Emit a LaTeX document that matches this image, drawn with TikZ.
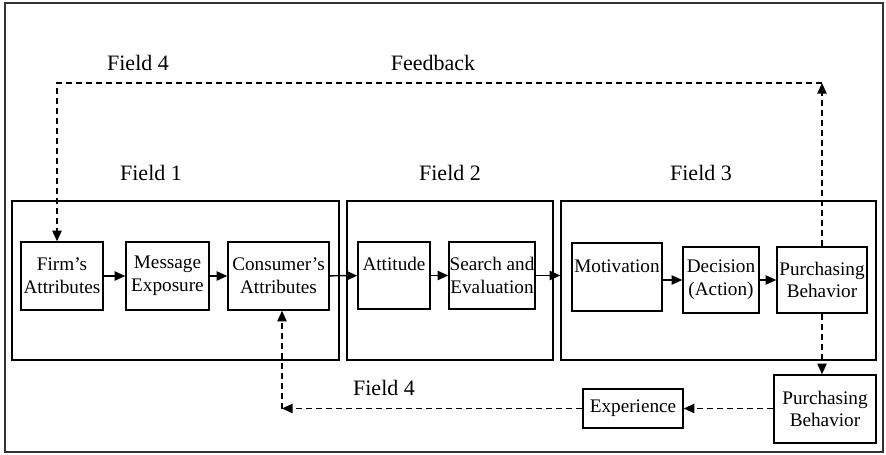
\documentclass[tikz,border=0pt]{standalone}
\usepackage{fontspec}
\setmainfont{Liberation Serif}
\usetikzlibrary{arrows.meta}

\begin{document}
\begin{tikzpicture}[
  x=0.75pt, y=-0.75pt,
  sz/.style 2 args={minimum width=#1*0.75pt, minimum height=#2*0.75pt},
  stage/.style={draw, line width=1.1pt, inner sep=0pt},
  stepbox/.style={draw, line width=1.1pt, inner sep=0pt, align=center,
    font=\fontsize{14.4pt}{17pt}\selectfont},
  fieldlabel/.style={font=\fontsize{16.5pt}{19pt}\selectfont, inner sep=0pt},
  flow/.style={line width=1.1pt, -{Triangle[length=8pt,width=7pt]}},
  loop/.style={line width=1.1pt, dash pattern=on 4.5pt off 3pt,
    -{Triangle[length=8pt,width=7pt]}}
]
\useasboundingbox (0,0) rectangle (886,454);
\draw[line width=1.5pt, black!80] (5,3) rectangle (883,452);

% the three stage frames
\node[stage, sz={327}{159}] (f1) at (175.5,280.5) {};
\node[stage, sz={206}{159}] (f2) at (450,280.5) {};
\node[stage, sz={315}{159}] (f3) at (718.5,280.5) {};

\node[fieldlabel] (l1) at (151,173) {Field 1};
\node[fieldlabel] (l2) at (450,173) {Field 2};
\node[fieldlabel] (l3) at (701,173) {Field 3};
\node[fieldlabel] (l4a) at (138,63) {Field 4};
\node[fieldlabel] (fb) at (433,63) {Feedback};
\node[fieldlabel] (l4b) at (384,388) {Field 4};

% process steps
\node[stepbox, sz={82}{68}] (firm) at (62,276) {Firm's\\Attributes};
\node[stepbox, sz={83}{68}] (msg) at (167.5,276) {Message\\Exposure};
\node[stepbox, sz={101}{68}] (cons) at (278.5,276) {Consumer's\\Attributes};
\node[stepbox, sz={72}{67}] (att) at (394,275.5) {Attitude\\{}};
\node[stepbox, sz={86}{67}] (search) at (492,275.5) {Search and\\Evaluation};
\node[stepbox, sz={90}{68}] (motiv) at (617,277) {Motivation\\{}};
\node[stepbox, sz={76}{66}] (dec) at (721,280) {Decision\\(Action)};
\node[stepbox, sz={90}{66}] (pb1) at (822,280) {Purchasing\\Behavior};
\node[stepbox, sz={102}{68}] (pb2) at (825,409) {Purchasing\\Behavior};
\node[stepbox, sz={100}{39}] (exp) at (633,408.5) {Experience};

% main flow
\draw[flow] (firm) -- (msg);
\draw[flow] (msg) -- (cons);
\draw[flow] (cons) -- (att);
\draw[flow] (att) -- (search);
\draw[flow] (search.east) -- (search.east -| f3.west);
\draw[flow] (motiv.east |- dec) -- (dec.west);
\draw[flow] (dec) -- (pb1);

% feedback loop
\coordinate (fbR) at (822,83);
\coordinate (fbL) at (57,83);
\draw[loop] (pb1.north) -- (fbR);
\draw[loop] (fbR) -- (fbL) -- (fbL |- firm.north);

% experience loop
\coordinate (bc) at (282,408.5);
\draw[loop] (pb1.south) -- (pb1.south |- pb2.north);
\draw[loop] (pb2.west |- exp) -- (exp.east);
\draw[loop] (exp.west) -- (bc);
\draw[loop] (bc) -- (bc |- cons.south);
\end{tikzpicture}
\end{document}
